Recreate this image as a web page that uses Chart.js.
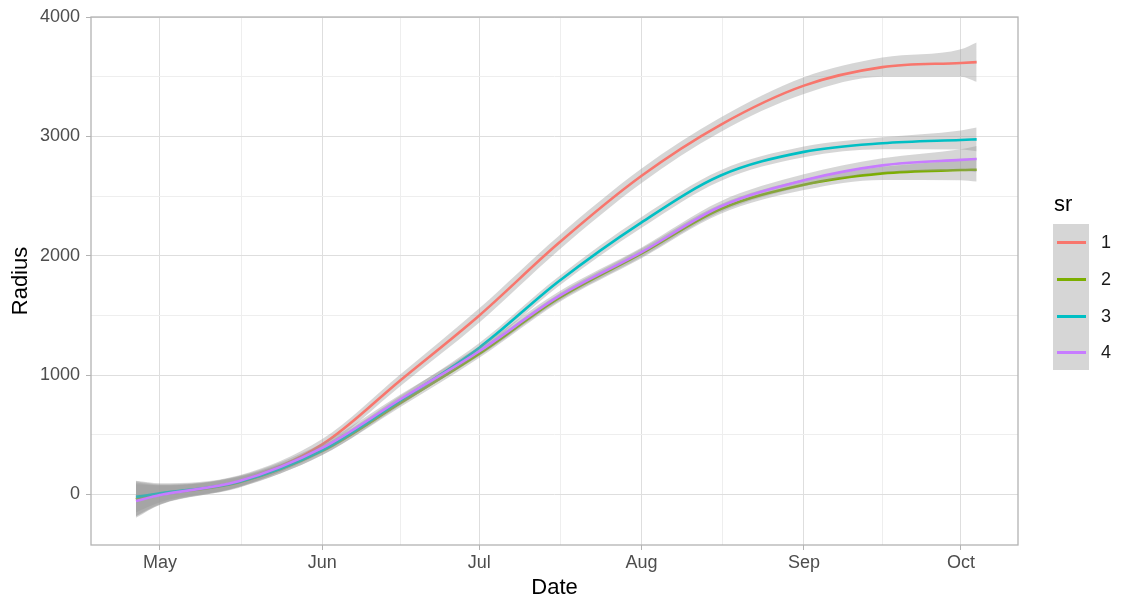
<!DOCTYPE html>
<html>
<head>
<meta charset="utf-8">
<script src="https://cdn.jsdelivr.net/npm/chart.js@4"></script>
<style>
  html, body { margin: 0; padding: 0; background: #ffffff; }
  #wrap { position: relative; width: 1121px; height: 601px; font-family: "Liberation Sans", Arial, sans-serif; }
  canvas { position: absolute; left: 0; top: 0; }
  .lg-title { position: absolute; left: 1054px; top: 191px; font-size: 22px; color: #000; line-height: 26px; }
  .lg-box { position: absolute; left: 1053px; top: 224px; width: 36px; height: 146px; background: #D6D6D6; }
  .lg-line { position: absolute; left: 1057px; width: 29px; height: 3px; }
  .lg-label { position: absolute; left: 1101px; font-size: 18px; color: #1A1A1A; line-height: 20px; }
</style>
</head>
<body>
<div id="wrap">
  <canvas id="c" width="1121" height="601"></canvas>
</div>
<script>
// ---- data (days since 1 May) ----
const days = [-4.6, 0, 15, 31, 46, 61, 76, 92, 107, 123, 138, 153, 156];

const seriesNames = ['1', '2', '3', '4'];
const seriesColors = ['#F8766D', '#7CAE00', '#00BFC4', '#C77CFF'];

const radius1 = [-35, 5, 110, 420, 960, 1500, 2100, 2670, 3095, 3425, 3580, 3615, 3622];
const upper1  = [115, 95, 160, 465, 1010, 1560, 2160, 2730, 3155, 3495, 3660, 3730, 3787];
const lower1  = [-185, -85, 60, 375, 910, 1440, 2040, 2610, 3035, 3355, 3500, 3500, 3457];

const radius2 = [-40, 0, 100, 365, 770, 1180, 1640, 2020, 2390, 2595, 2690, 2718, 2721];
const upper2  = [100, 80, 145, 400, 805, 1215, 1675, 2060, 2430, 2640, 2745, 2803, 2821];
const lower2  = [-180, -80, 55, 330, 735, 1145, 1605, 1980, 2350, 2550, 2635, 2633, 2621];

const radius3 = [-20, 10, 105, 370, 790, 1230, 1780, 2280, 2670, 2870, 2942, 2970, 2975];
const upper3  = [110, 85, 150, 410, 830, 1270, 1820, 2325, 2715, 2915, 2992, 3050, 3075];
const lower3  = [-150, -65, 60, 330, 750, 1190, 1740, 2235, 2625, 2825, 2892, 2890, 2875];

const radius4 = [-55, -5, 110, 390, 800, 1200, 1655, 2030, 2410, 2632, 2757, 2803, 2810];
const upper4  = [85, 75, 155, 430, 840, 1240, 1695, 2070, 2455, 2682, 2817, 2893, 2920];
const lower4  = [-195, -85, 65, 350, 760, 1160, 1615, 1990, 2365, 2582, 2697, 2713, 2700];

// ---- ticks ----
const monthTicks  = [0, 31, 61, 92, 123, 153];
const monthLabels = ['May', 'Jun', 'Jul', 'Aug', 'Sep', 'Oct'];
const monthMinor  = [15.5, 46, 76.5, 107.5, 138];
const yTicks      = [0, 1000, 2000, 3000, 4000];
const yMinor      = [500, 1500, 2500, 3500];

const radii  = [radius1, radius2, radius3, radius4];
const uppers = [upper1, upper2, upper3, upper4];
const lowers = [lower1, lower2, lower3, lower4];

const pts = arr => days.map((d, i) => ({ x: d, y: arr[i] }));

const datasets = [];
for (let g = 0; g < 4; g++) {
  const hiIndex = datasets.length;
  datasets.push({
    label: 'hi' + seriesNames[g], data: pts(uppers[g]),
    borderWidth: 0, pointRadius: 0, cubicInterpolationMode: 'monotone',
    backgroundColor: 'rgba(153,153,153,0.4)', borderColor: 'rgba(0,0,0,0)',
    fill: { target: hiIndex + 1 }, order: 100 - g * 10
  });
  datasets.push({
    label: 'lo' + seriesNames[g], data: pts(lowers[g]),
    borderWidth: 0, pointRadius: 0, cubicInterpolationMode: 'monotone',
    borderColor: 'rgba(0,0,0,0)', fill: false, order: 99 - g * 10
  });
  datasets.push({
    label: seriesNames[g], data: pts(radii[g]),
    borderWidth: 2.6, pointRadius: 0, cubicInterpolationMode: 'monotone',
    borderColor: seriesColors[g], fill: false, order: 95 - g * 10
  });
}

const panelBorder = {
  id: 'panelBorder',
  afterDraw(chart) {
    const { ctx, chartArea: a } = chart;
    ctx.save();
    ctx.strokeStyle = '#B3B3B3';
    ctx.lineWidth = 1.3;
    ctx.strokeRect(a.left, a.top, a.right - a.left, a.bottom - a.top);
    ctx.restore();
  }
};

const isMajorX = v => monthTicks.includes(v);
const isMajorY = v => yTicks.includes(v);
const FONT = 'Liberation Sans';

new Chart(document.getElementById('c'), {
  type: 'line',
  data: { datasets },
  options: {
    responsive: false,
    animation: false,
    layout: { padding: { top: 17, right: 103, left: 0, bottom: 0 } },
    plugins: { legend: { display: false }, tooltip: { enabled: false } },
    scales: {
      x: {
        type: 'linear', min: -13.18, max: 163.9,
        afterBuildTicks: s => { s.ticks = monthTicks.concat(monthMinor).sort((a, b) => a - b).map(v => ({ value: v })); },
        afterFit: s => { s.height = 56; },
        ticks: {
          autoSkip: false, maxRotation: 0, padding: 2,
          color: '#4D4D4D', font: { family: FONT, size: 18 },
          callback: v => { const i = monthTicks.indexOf(v); return i >= 0 ? monthLabels[i] : ''; }
        },
        grid: {
          color: c => (c.tick && isMajorX(c.tick.value)) ? '#DEDEDE' : '#EEEEEE',
          lineWidth: 1,
          tickLength: 5,
          tickColor: c => (c.tick && isMajorX(c.tick.value)) ? '#B3B3B3' : 'rgba(0,0,0,0)'
        },
        border: { display: false },
        title: { display: true, text: 'Date', color: '#000', font: { family: FONT, size: 22 }, padding: { top: 0, bottom: 0 } }
      },
      y: {
        type: 'linear', min: -423, max: 4000,
        afterBuildTicks: s => { s.ticks = yTicks.concat(yMinor).sort((a, b) => a - b).map(v => ({ value: v })); },
        afterFit: s => { s.width = 91; },
        ticks: {
          autoSkip: false, padding: 6,
          color: '#4D4D4D', font: { family: FONT, size: 18 },
          callback: v => isMajorY(v) ? String(v) : ''
        },
        grid: {
          color: c => (c.tick && isMajorY(c.tick.value)) ? '#DEDEDE' : '#EEEEEE',
          lineWidth: 1,
          tickLength: 5,
          tickColor: c => (c.tick && isMajorY(c.tick.value)) ? '#B3B3B3' : 'rgba(0,0,0,0)'
        },
        border: { display: false },
        title: { display: true, text: 'Radius', color: '#000', font: { family: FONT, size: 22 }, padding: { top: 8, bottom: 0 } }
      }
    }
  },
  plugins: [panelBorder]
});

// ---- legend ----
const wrap = document.getElementById('wrap');
const t = document.createElement('div');
t.className = 'lg-title'; t.textContent = 'sr'; wrap.appendChild(t);
const box = document.createElement('div');
box.className = 'lg-box'; wrap.appendChild(box);
const keyCenters = [242, 279, 316, 352];
seriesNames.forEach((n, i) => {
  const ln = document.createElement('div');
  ln.className = 'lg-line';
  ln.style.top = (keyCenters[i] - 1.5) + 'px';
  ln.style.background = seriesColors[i];
  wrap.appendChild(ln);
  const lb = document.createElement('div');
  lb.className = 'lg-label';
  lb.style.top = (keyCenters[i] - 10) + 'px';
  lb.textContent = n;
  wrap.appendChild(lb);
});
</script>
</body>
</html>
